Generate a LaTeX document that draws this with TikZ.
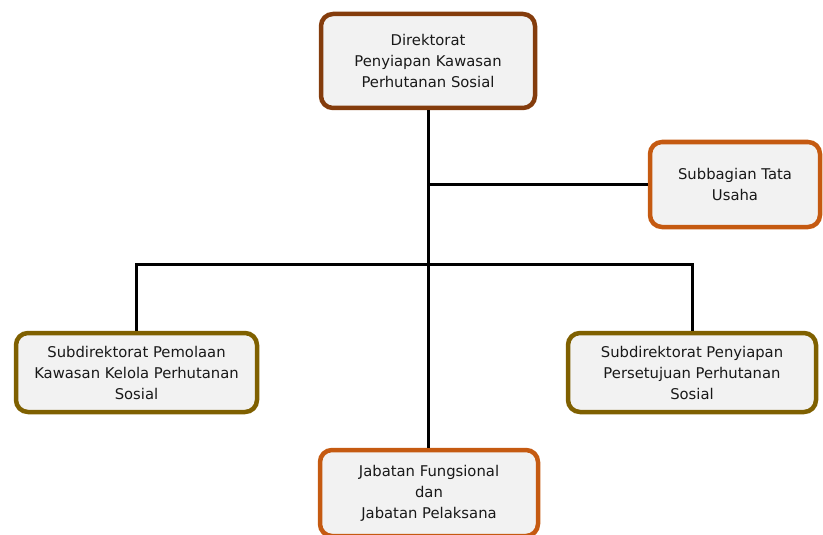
\documentclass[tikz,border=0pt]{standalone}
\usepackage{fontspec}
\setmainfont{DejaVu Sans}
\usetikzlibrary{calc}
\definecolor{coklat}{HTML}{843C0C}
\definecolor{oranye}{HTML}{C55A11}
\definecolor{zaitun}{HTML}{7F6000}
\definecolor{abu}{HTML}{F2F2F2}

\begin{document}
\begin{tikzpicture}[x=1pt,y=-1pt,
		kotak/.style = {draw, line width=4.5pt, rounded corners=12pt,
			fill=abu, align=center, inner sep=0pt,
			font=\fontsize{14.8}{21}\selectfont, text=black!90
		},
		garis/.style = {line width=3pt},]
		\useasboundingbox (0,0) rectangle (823,535);
		\node[kotak, draw=coklat, minimum width=214pt, minimum height=94pt] (dir) at (428,61) {Direktorat\\Penyiapan Kawasan\\Perhutanan Sosial};
		\node[kotak, draw=oranye, minimum width=170pt, minimum height=85pt] (tu) at (735,184.5) {Subbagian Tata\\Usaha};
		\node[kotak, draw=zaitun, minimum width=241pt, minimum height=79pt] (sdk) at (136.5,372.5) {Subdirektorat Pemolaan\\Kawasan Kelola Perhutanan\\Sosial};
		\node[kotak, draw=zaitun, minimum width=248pt, minimum height=79pt] (sdp) at (692,372.5) {Subdirektorat Penyiapan\\Persetujuan Perhutanan\\Sosial};
		\node[kotak, draw=oranye, minimum width=218pt, minimum height=86pt] (jab) at (429,493) {Jabatan Fungsional\\dan\\Jabatan Pelaksana};
		% garis penghubung
		\coordinate (cabang) at (dir.south |- tu.west);
		\coordinate (bagi) at ($(dir.south)+(0,154)$);
		\draw[garis] (dir.south) -- (dir.south |- jab.north);
		\draw[garis] (cabang) -- (tu.west);
		\draw[garis] (sdk.north) |- (bagi) -| (sdp.north);
	\end{tikzpicture}
\end{document}
